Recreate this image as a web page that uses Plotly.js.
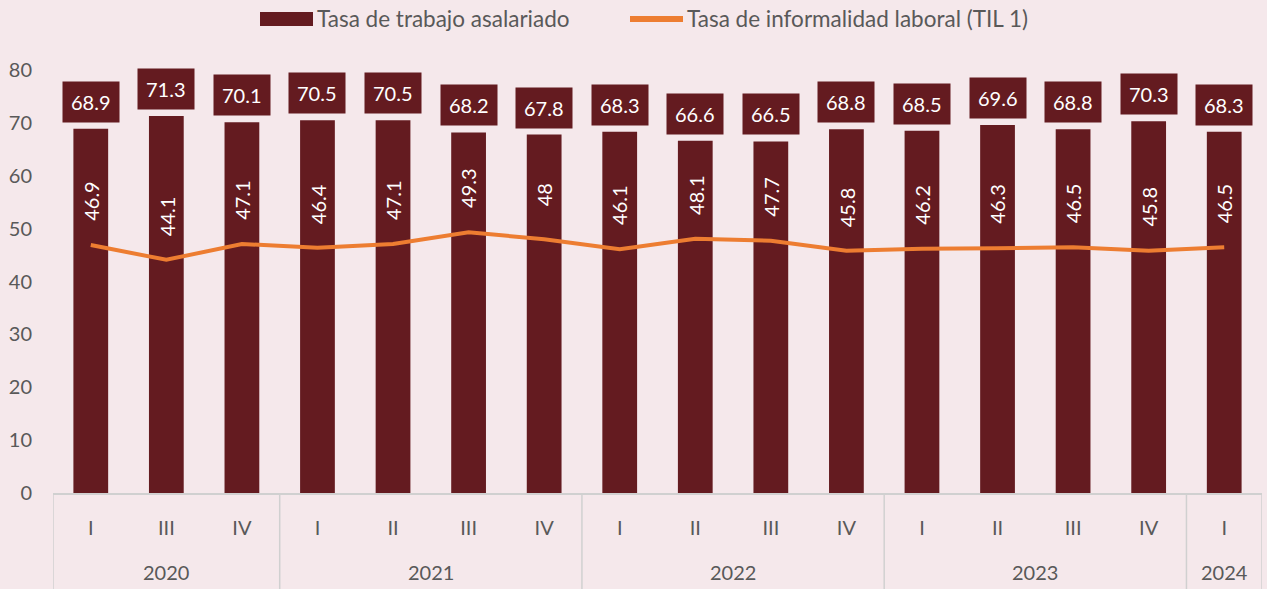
<!DOCTYPE html>
<html>
<head>
<meta charset="utf-8">
<script src="https://cdn.plot.ly/plotly-3.0.1.min.js"></script>
<style>html,body{margin:0;padding:0;background:#f5e8eb;}#chart{width:1267px;height:589px;}</style>
</head>
<body>
<div id="chart"></div>
<script>
const years = ["2020","2020","2020","2021","2021","2021","2021","2022","2022","2022","2022","2023","2023","2023","2023","2024"];
const quarters = ["I","III","IV","I","II","III","IV","I","II","III","IV","I","II","III","IV","I"];
const asalariado = [68.9,71.3,70.1,70.5,70.5,68.2,67.8,68.3,66.6,66.5,68.8,68.5,69.6,68.8,70.3,68.3];
const informalidad = [46.9,44.1,47.1,46.4,47.1,49.3,48,46.1,48.1,47.7,45.8,46.2,46.3,46.5,45.8,46.5];
const seriesNames = ["Tasa de trabajo asalariado","Tasa de informalidad laboral (TIL 1)"];

const maroon = "#641B20";
const orange = "#ED7D31";
const grey = "#595959";
const FONT = "Lato, 'Open Sans', sans-serif";

const W = 1267, H = 589;
const M = {l:53, r:5, t:70, b:96};
const pw = W - M.l - M.r, ph = H - M.t - M.b;
const px2x = p => (p - M.l) / pw;
const py2y = p => 1 + (M.t - p) / ph;

const idx = quarters.map((q,i)=>i);

const traces = [
  {type:"bar", x:idx, y:asalariado, name:seriesNames[0],
   marker:{color:maroon}, width:0.46, hoverinfo:"none"},
  {type:"scatter", mode:"lines", x:idx, y:informalidad, name:seriesNames[1],
   line:{color:orange, width:4}, hoverinfo:"none"}
];

const annotations = [];
asalariado.forEach((v,i)=>{
  annotations.push({x:i, xref:"x", y:v, yref:"y", text:String(v), showarrow:false,
    yanchor:"bottom", yshift:6, bgcolor:maroon, borderpad:8,
    font:{family:FONT, size:20, color:"#ffffff"}});
});
informalidad.forEach((v,i)=>{
  annotations.push({x:i, xref:"x", y:v, yref:"y", text:String(v), showarrow:false,
    textangle:-90, yanchor:"middle", yshift:44,
    font:{family:FONT, size:20, color:"#ffffff"}});
});

// year groups
const groups = [];
years.forEach((y,i)=>{
  if (!groups.length || groups[groups.length-1].name !== y) groups.push({name:y, start:i, end:i});
  else groups[groups.length-1].end = i;
});
const shapes = [];
const divColor = "#d0d0d0";
groups.forEach((g,k)=>{
  annotations.push({x:(g.start+g.end)/2, xref:"x", y:0, yref:"paper", yshift:-79,
    yanchor:"middle", text:g.name, showarrow:false, font:{family:FONT, size:20, color:grey}});
  shapes.push({type:"line", xref:"x", yref:"paper", x0:g.start-0.5, x1:g.start-0.5, y0:0, y1:-0.23,
    line:{color:divColor, width:1.5}});
  if (k === groups.length-1) {
    shapes.push({type:"line", xref:"x", yref:"paper", x0:g.end+0.5, x1:g.end+0.5, y0:0, y1:-0.23,
      line:{color:divColor, width:1.5}});
  }
});

// custom legend (wide swatches as in the reference)
const legY = 19;
shapes.push({type:"rect", xref:"paper", yref:"paper", x0:px2x(260), x1:px2x(313),
  y0:py2y(legY+7), y1:py2y(legY-7), fillcolor:maroon, line:{width:0}});
annotations.push({xref:"paper", yref:"paper", x:px2x(315), y:py2y(legY), xanchor:"left", yanchor:"middle",
  text:seriesNames[0], showarrow:false, font:{family:FONT, size:22.5, color:grey}});
shapes.push({type:"line", xref:"paper", yref:"paper", x0:px2x(630), x1:px2x(683),
  y0:py2y(legY), y1:py2y(legY), line:{color:orange, width:6}});
annotations.push({xref:"paper", yref:"paper", x:px2x(685), y:py2y(legY), xanchor:"left", yanchor:"middle",
  text:seriesNames[1], showarrow:false, font:{family:FONT, size:22.5, color:grey}});

const layout = {
  width:W, height:H,
  paper_bgcolor:"#f5e8eb", plot_bgcolor:"rgba(0,0,0,0)",
  margin:{l:M.l, r:M.r, t:M.t, b:M.b, autoexpand:false},
  font:{family:FONT, size:20, color:grey},
  showlegend:false,
  xaxis:{range:[-0.5, quarters.length-0.5], tickmode:"array", tickvals:idx, ticktext:quarters,
    showline:true, linecolor:divColor, linewidth:1.5, showgrid:false, zeroline:false,
    ticks:"", ticklabelstandoff:16, tickfont:{family:FONT, size:20, color:grey}},
  yaxis:{range:[0,80], dtick:10, showgrid:false, zeroline:false, showline:false,
    tickfont:{family:FONT, size:20, color:grey}, ticks:"", ticklabelstandoff:20},
  shapes:shapes,
  annotations:annotations
};

Plotly.newPlot("chart", traces, layout, {displayModeBar:false, staticPlot:true});
</script>
</body>
</html>
